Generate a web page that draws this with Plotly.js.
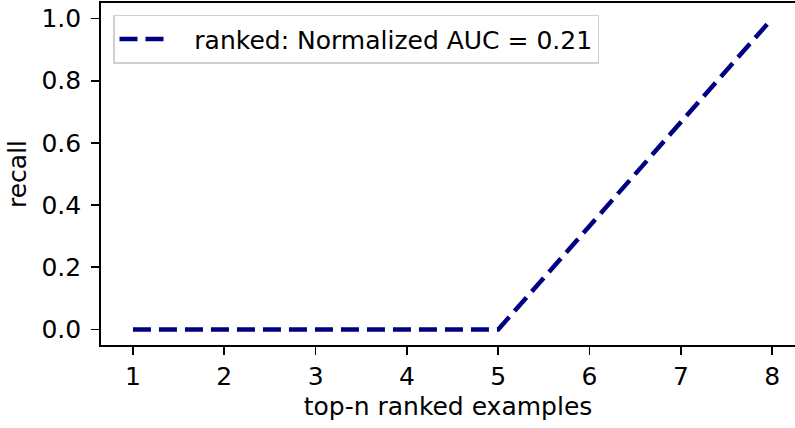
<!DOCTYPE html>
<html>
<head>
<meta charset="utf-8">
<script src="https://cdn.plot.ly/plotly-3.0.1.min.js"></script>
<style>
  html, body { margin: 0; padding: 0; background: #ffffff; }
  #chart { width: 795px; height: 428px; }
</style>
</head>
<body>
<div id="chart"></div>
<script>
const topN = [1, 2, 3, 4, 5, 6, 7, 8];
const recall = [0, 0, 0, 0, 0, 0.333, 0.667, 1.0];
const seriesName = "ranked: Normalized AUC = 0.21";
const xTicks = [1, 2, 3, 4, 5, 6, 7, 8];
const yTicks = [0, 0.2, 0.4, 0.6, 0.8, 1.0];
const yTickLabels = ["0.0", "0.2", "0.4", "0.6", "0.8", "1.0"];

const font = "DejaVu Sans, sans-serif";
const fs = 25;

const trace = {
  x: topN,
  y: recall,
  type: "scatter",
  mode: "lines",
  name: "\u00a0\u00a0\u00a0" + seriesName,
  line: { color: "#000080", width: 4.5, dash: "18px,8px" },
  showlegend: true
};

const layout = {
  width: 795,
  height: 428,
  margin: { l: 101, r: 0, t: 3, b: 83, pad: 0 },
  paper_bgcolor: "#ffffff",
  plot_bgcolor: "#ffffff",
  font: { family: font, size: fs, color: "#000000" },
  showlegend: true,
  legend: {
    x: 0.0173, y: 0.966, xanchor: "left", yanchor: "top",
    bgcolor: "#ffffff", bordercolor: "#d0d0d0", borderwidth: 1.5,
    font: { family: font, size: fs, color: "#000000" },
    itemwidth: 46
  },
  xaxis: {
    range: [0.65, 8.25],
    tickmode: "array",
    tickvals: xTicks,
    ticks: "outside", ticklen: 8, tickwidth: 1.8, tickcolor: "#000000",
    showline: true, linewidth: 1.8, linecolor: "#000000", mirror: true,
    showgrid: false, zeroline: false,
    tickfont: { family: font, size: fs, color: "#000000" },
    title: { text: "top-n ranked examples", font: { family: font, size: fs, color: "#000000" }, standoff: 8 }
  },
  yaxis: {
    range: [-0.05, 1.05],
    tickmode: "array",
    tickvals: yTicks,
    ticktext: yTickLabels,
    ticks: "outside", ticklen: 8, tickwidth: 1.8, tickcolor: "#000000",
    ticklabelstandoff: 5,
    showline: true, linewidth: 1.8, linecolor: "#000000",
    showgrid: false, zeroline: false,
    tickfont: { family: font, size: fs, color: "#000000" },
    title: { text: "recall", font: { family: font, size: fs, color: "#000000" }, standoff: 8 }
  }
};

Plotly.newPlot("chart", [trace], layout, { staticPlot: true, displayModeBar: false });
</script>
</body>
</html>
